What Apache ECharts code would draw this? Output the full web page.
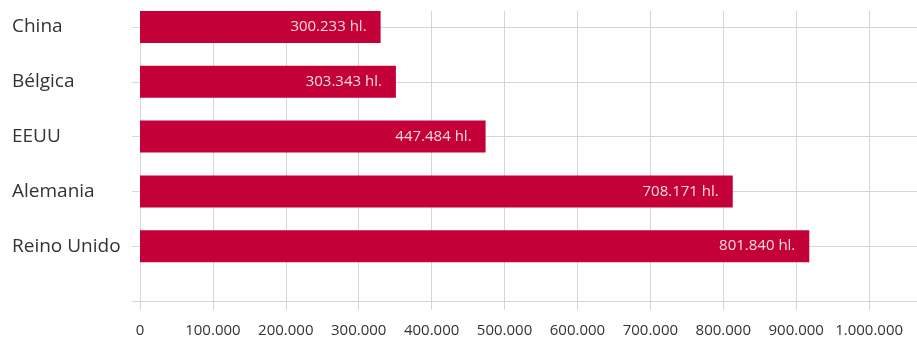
<!DOCTYPE html>
<html>
<head>
<meta charset="utf-8">
<script src="https://cdn.jsdelivr.net/npm/echarts@6/dist/echarts.min.js"></script>
<style>
html,body{margin:0;padding:0;background:#fff;overflow:hidden;width:917px;height:338px;}
#c{width:942px;height:338px;}
</style>
</head>
<body>
<div id="c"></div>
<script>
// Data
var categories = ['China', 'Bélgica', 'EEUU', 'Alemania', 'Reino Unido', ''];
var barValues = [330000, 351000, 474000, 813000, 918000];
var labelTexts = ['300.233 hl.', '303.343 hl.', '447.484 hl.', '708.171 hl.', '801.840 hl.'];
var xMin = 0, xMax = 1100000, xStep = 100000;

function fmt(v) {
  return String(Math.round(v)).replace(/\B(?=(\d{3})+(?!\d))/g, '.');
}

var FONT = '"Open Sans", "Noto Sans", sans-serif';
var GRID_COLOR = '#d6d6d6';

var chart = echarts.init(document.getElementById('c'), null, {renderer: 'canvas'});
chart.setOption({
  animation: false,
  backgroundColor: '#ffffff',
  grid: [
    {left: 140, right: 0, top: 27, bottom: 37, containLabel: false},
    {left: 140, right: 0, top: 11, bottom: 37, containLabel: false}
  ],
  xAxis: [
    {
      gridIndex: 0, type: 'value', min: xMin, max: xMax, interval: xStep,
      axisLine: {show: true, lineStyle: {color: GRID_COLOR}},
      axisTick: {show: true, length: 9, lineStyle: {color: GRID_COLOR}},
      splitLine: {show: false},
      axisLabel: {
        color: '#333', fontFamily: FONT, fontSize: 15, margin: 22, showMaxLabel: false,
        formatter: function (v) { return fmt(v); }
      }
    },
    {
      gridIndex: 1, type: 'value', min: xMin, max: xMax, interval: xStep,
      axisLine: {show: false}, axisTick: {show: false}, axisLabel: {show: false},
      splitLine: {show: true, lineStyle: {color: GRID_COLOR}}
    }
  ],
  yAxis: [
    {
      gridIndex: 0, type: 'category', data: categories, inverse: true, boundaryGap: false,
      axisLine: {show: false},
      axisTick: {show: true, length: 8, lineStyle: {color: GRID_COLOR}},
      splitLine: {show: true, lineStyle: {color: GRID_COLOR}},
      axisLabel: {
        color: '#333', fontFamily: FONT, fontSize: 19, align: 'left', margin: 128
      }
    },
    {
      gridIndex: 1, type: 'value', show: false
    }
  ],
  series: [{
    type: 'bar',
    xAxisIndex: 0, yAxisIndex: 0,
    data: barValues,
    barWidth: 32,
    clip: false,
    itemStyle: {color: '#c30038'},
    label: {
      show: true, position: 'insideRight', distance: 14,
      color: '#f4dbe1', fontFamily: FONT, fontSize: 15,
      formatter: function (p) { return labelTexts[p.dataIndex]; }
    }
  }]
});
</script>
</body>
</html>
